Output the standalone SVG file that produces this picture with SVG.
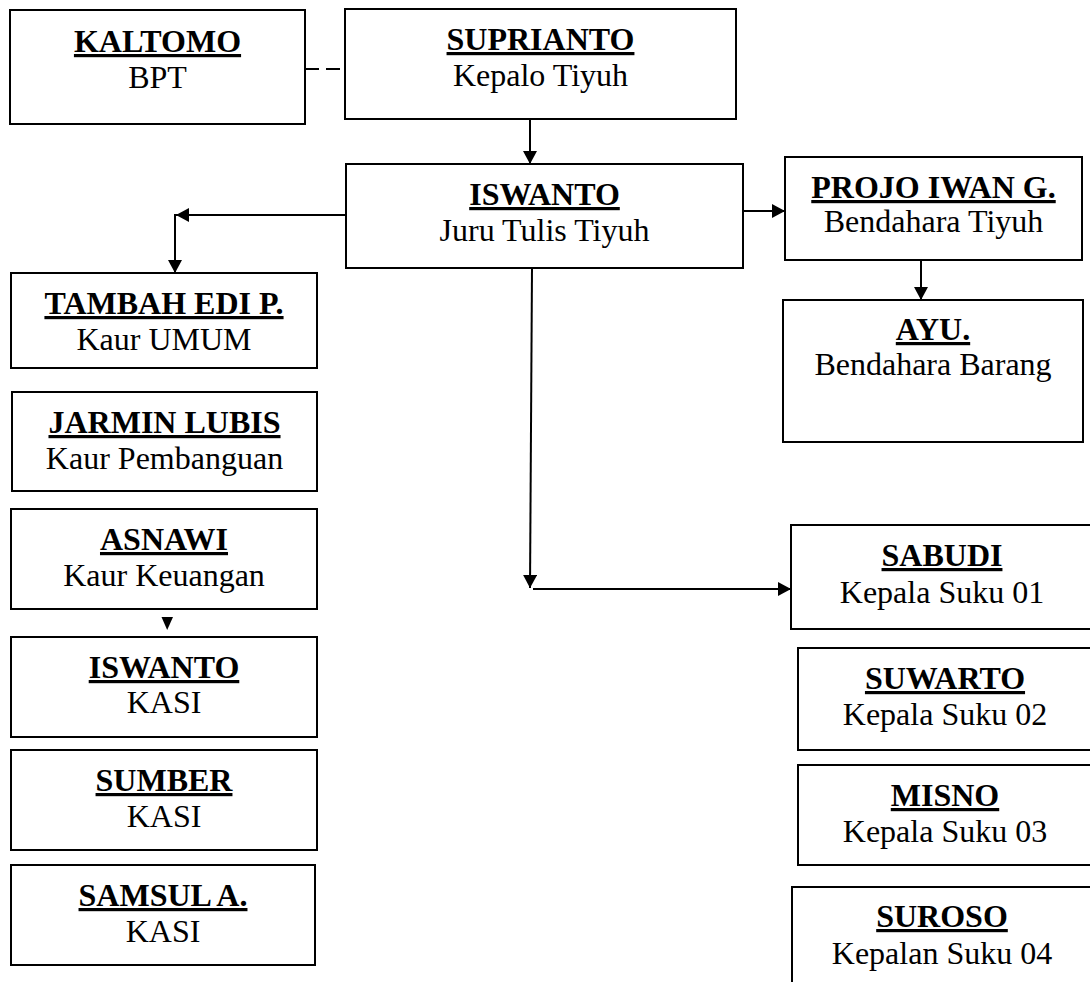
<svg xmlns="http://www.w3.org/2000/svg" width="1090" height="982" viewBox="0 0 1090 982">
<defs>
<style>
.box{fill:#fff;stroke:#000;stroke-width:2}
text{font-family:"Liberation Serif","Times New Roman",serif;font-size:32px;fill:#000;text-anchor:middle}
.n{font-weight:bold;text-decoration:underline;text-decoration-thickness:3px;text-underline-offset:3px}
.c{fill:none;stroke:#000;stroke-width:2}
.d{fill:none;stroke:#000;stroke-width:2;stroke-dasharray:14 7}
.h{fill:#000;stroke:none}
</style>
<marker id="ah" viewBox="0 0 13 14" refX="13" refY="7" markerWidth="13" markerHeight="14" markerUnits="userSpaceOnUse" orient="auto">
<path d="M0,0 L13,7 L0,14 Z" class="h"/>
</marker>
</defs>
<rect width="1090" height="982" fill="#fff"/>
<g id="connectors">
<line class="d" x1="305" y1="69" x2="345" y2="69"/>
<line class="c" x1="530" y1="119" x2="530" y2="164" marker-end="url(#ah)"/>
<polyline class="c" points="346,215 176,215" marker-end="url(#ah)"/>
<line class="c" x1="175" y1="214" x2="175" y2="273" marker-end="url(#ah)"/>
<line class="c" x1="743" y1="211" x2="785" y2="211" marker-end="url(#ah)"/>
<line class="c" x1="921" y1="260" x2="921" y2="300" marker-end="url(#ah)"/>
<line class="c" x1="532" y1="268" x2="530" y2="588" marker-end="url(#ah)"/>
<line class="c" x1="533" y1="589" x2="791" y2="589" marker-end="url(#ah)"/>
<path class="h" d="M161.5,617 L173,617 L167.2,630 Z"/>
</g>
<g id="kaltomo"><rect class="box" x="10" y="10" width="295" height="114"/><text class="n" x="157.5" y="52">KALTOMO</text><text x="157.5" y="88">BPT</text></g>
<g id="suprianto"><rect class="box" x="345" y="9" width="391" height="110"/><text class="n" x="540.5" y="50">SUPRIANTO</text><text x="540.5" y="86">Kepalo Tiyuh</text></g>
<g id="iswanto"><rect class="box" x="346" y="164" width="397" height="104"/><text class="n" x="544.5" y="205">ISWANTO</text><text x="544.5" y="241">Juru Tulis Tiyuh</text></g>
<g id="projo"><rect class="box" x="785" y="157" width="297" height="103"/><text class="n" x="933.5" y="198">PROJO IWAN G.</text><text x="933.5" y="232">Bendahara Tiyuh</text></g>
<g id="ayu"><rect class="box" x="783" y="300" width="300" height="142"/><text class="n" x="933" y="340">AYU.</text><text x="933" y="375">Bendahara Barang</text></g>
<g id="tambah"><rect class="box" x="11" y="273" width="306" height="95"/><text class="n" x="164" y="314">TAMBAH EDI P.</text><text x="164" y="350">Kaur UMUM</text></g>
<g id="jarmin"><rect class="box" x="12" y="392" width="305" height="99"/><text class="n" x="164.5" y="433">JARMIN LUBIS</text><text x="164.5" y="469">Kaur Pembanguan</text></g>
<g id="asnawi"><rect class="box" x="11" y="509" width="306" height="100"/><text class="n" x="164" y="550">ASNAWI</text><text x="164" y="586">Kaur Keuangan</text></g>
<g id="iswanto-kasi"><rect class="box" x="11" y="637" width="306" height="100"/><text class="n" x="164" y="678">ISWANTO</text><text x="164" y="713">KASI</text></g>
<g id="sumber"><rect class="box" x="11" y="750" width="306" height="100"/><text class="n" x="164" y="791">SUMBER</text><text x="164" y="827">KASI</text></g>
<g id="samsul"><rect class="box" x="11" y="865" width="304" height="100"/><text class="n" x="163" y="906">SAMSUL A.</text><text x="163" y="942">KASI</text></g>
<g id="sabudi"><rect class="box" x="791" y="525" width="305" height="104"/><text class="n" x="942" y="566">SABUDI</text><text x="942" y="603">Kepala Suku 01</text></g>
<g id="suwarto"><rect class="box" x="798" y="648" width="300" height="102"/><text class="n" x="945" y="689">SUWARTO</text><text x="945" y="725">Kepala Suku 02</text></g>
<g id="misno"><rect class="box" x="798" y="765" width="300" height="100"/><text class="n" x="945" y="806">MISNO</text><text x="945" y="842">Kepala Suku 03</text></g>
<g id="suroso"><rect class="box" x="792" y="887" width="305" height="110"/><text class="n" x="942" y="927">SUROSO</text><text x="942" y="964">Kepalan Suku 04</text></g>
</svg>
